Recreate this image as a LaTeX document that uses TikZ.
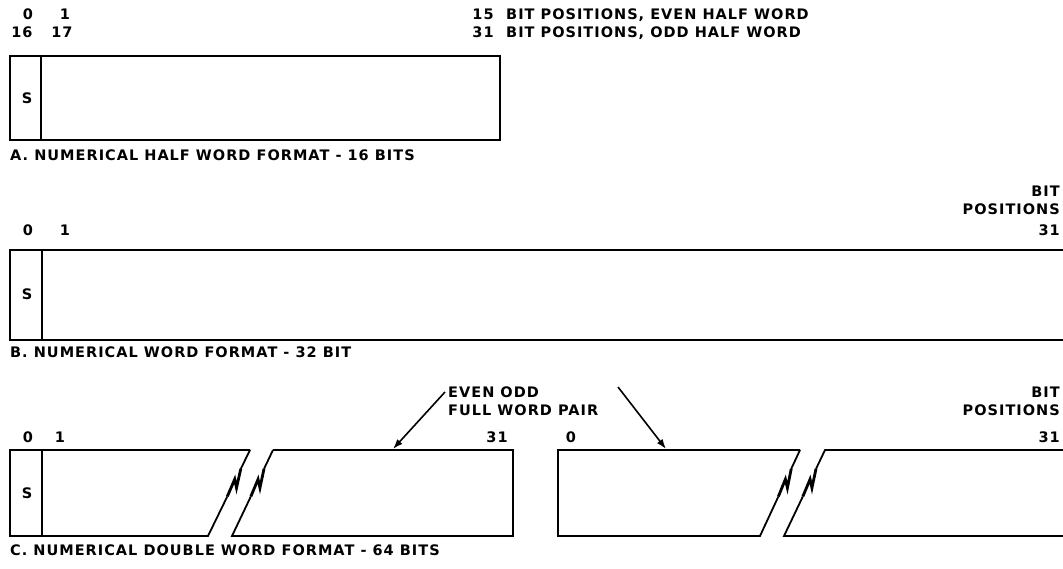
\documentclass[tikz,border=0pt]{standalone}
\usepackage{fontspec}
\setmainfont{DejaVu Sans}[LetterSpace=7]
\usetikzlibrary{calc,arrows.meta}
\begin{document}
\begin{tikzpicture}[x=1pt,y=-1pt,
  box/.style={line width=1.8pt, line join=miter, line cap=butt},
  zig/.style={line width=2.8pt, line join=miter},
  lbl/.style={inner sep=0pt, font=\bfseries\fontsize{14.5}{14.5}\selectfont},
  ptr/.style={line width=1.6pt, -{Latex[length=10pt,width=7pt]}}]
\fill[white] (0,0) rectangle (1063,569);
\useasboundingbox (0,0) rectangle (1063,569);

% ---------- A ----------
\node[lbl,anchor=base] (a0) at (28,20) {0};
\node[lbl,anchor=base] (a1) at (65,20) {1};
\node[lbl,anchor=base] (a16) at (22,38) {16};
\node[lbl,anchor=base] (a17) at (62,38) {17};
\node[lbl,anchor=base] (a15) at (483,20) {15};
\node[lbl,anchor=base] (a31) at (483,38) {31};
\node[lbl,anchor=base west] (aeven) at (506,20) {BIT POSITIONS, EVEN HALF WORD};
\node[lbl,anchor=base west] (aodd) at (506,38) {BIT POSITIONS, ODD HALF WORD};
\draw[box] (10,56) rectangle (500,140);
\draw[box] (41,56) -- (41,140);
\node[lbl] (aS) at (27,98) {S};
\node[lbl,anchor=base west] (acap) at (10,161) {A. NUMERICAL HALF WORD FORMAT - 16 BITS};

% ---------- B ----------
\node[lbl,anchor=base] (b0) at (28,236) {0};
\node[lbl,anchor=base] (b1) at (65,236) {1};
\node[lbl,anchor=base east] (bbit) at (1060,197) {BIT};
\node[lbl,anchor=base east] (bpos) at (1060,215) {POSITIONS};
\node[lbl,anchor=base east] (b31) at (1060,236) {31};
\draw[box] (1064,250) -- (10,250) -- (10,340) -- (1064,340);
\draw[box] (42,250) -- (42,340);
\node[lbl] (bS) at (27,294) {S};
\node[lbl,anchor=base west] (bcap) at (10,357) {B. NUMERICAL WORD FORMAT - 32 BIT};

% ---------- C ----------
\node[lbl,anchor=base] (c0) at (28,442) {0};
\node[lbl,anchor=base] (c1) at (60,442) {1};
\node[lbl,anchor=base] (c31) at (497,442) {31};
\node[lbl,anchor=base] (c0b) at (571,442) {0};
\node[lbl,anchor=base east] (cbit) at (1060,397) {BIT};
\node[lbl,anchor=base east] (cpos) at (1060,415) {POSITIONS};
\node[lbl,anchor=base east] (c31b) at (1060,442) {31};
\node[lbl,anchor=base west] (ceven) at (448,397) {EVEN ODD};
\node[lbl,anchor=base west] (cfull) at (448,415) {FULL WORD PAIR};
\node[lbl,anchor=base west] (ccap) at (10,555) {C. NUMERICAL DOUBLE WORD FORMAT - 64 BITS};

% slanted ends
\coordinate (p1t) at (250,450); \coordinate (p1b) at (208,536);
\coordinate (p2t) at (273,450); \coordinate (p2b) at (232,536);
\coordinate (p3t) at (800,450); \coordinate (p3b) at (760,536);
\coordinate (p4t) at (825,450); \coordinate (p4b) at (784,536);

% box 1
\draw[box] (p1t) -- (10,450) -- (10,536) -- (p1b) -- ($(p1b)!0.46!(p1t)$);
\draw[box] ($(p1b)!0.78!(p1t)$) -- (p1t);
\draw[box] (42,450) -- (42,536);
\node[lbl] (cS) at (27,493) {S};
% box 2
\draw[box] (p2t) -- (513,450) -- (513,536) -- (p2b) -- ($(p2b)!0.46!(p2t)$);
\draw[box] ($(p2b)!0.78!(p2t)$) -- (p2t);
% box 3
\draw[box] (p3t) -- (558,450) -- (558,536) -- (p3b) -- ($(p3b)!0.46!(p3t)$);
\draw[box] ($(p3b)!0.78!(p3t)$) -- (p3t);
% box 4
\draw[box] (1064,450) -- (p4t) -- ($(p4t)!0.22!(p4b)$);
\draw[box] ($(p4t)!0.54!(p4b)$) -- (p4b) -- (1064,536);

% break marks
\foreach \b/\t in {p1b/p1t, p2b/p2t, p3b/p3t, p4b/p4t}{
  \draw[zig] ($(\b)!0.46!(\t)$) -- ($(\b)!0.66!(\t)+(-1,0)$)
    -- ($(\b)!0.56!(\t)+(5,0)$) -- ($(\b)!0.78!(\t)$);
}

% pointers
\coordinate (t1) at (393,449);
\coordinate (t2) at (666,449);
\draw[ptr] (445,392) -- (t1);
\draw[ptr] (618,387) -- (t2);
\end{tikzpicture}
\end{document}
